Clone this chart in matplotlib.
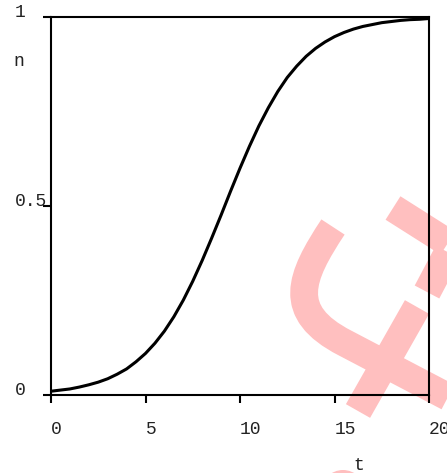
import numpy as np
import matplotlib
matplotlib.use("Agg")
import matplotlib.pyplot as plt
from matplotlib.path import Path
from matplotlib.patches import PathPatch
from matplotlib.transforms import Affine2D

# data
t_vals = [0, 0.5, 1, 1.5, 2, 2.5, 3, 3.5, 4, 4.5, 5, 5.5, 6, 6.5, 7, 7.5, 8, 8.5, 9, 9.5,
          10, 10.5, 11, 11.5, 12, 12.5, 13, 13.5, 14, 14.5, 15, 15.5, 16, 16.5, 17, 17.5,
          18, 18.5, 19, 19.5, 20]
n_vals = [0.010, 0.013, 0.016, 0.021, 0.027, 0.034, 0.043, 0.055, 0.069, 0.088, 0.110,
          0.137, 0.169, 0.207, 0.251, 0.301, 0.356, 0.415, 0.476, 0.539, 0.600, 0.658,
          0.712, 0.760, 0.803, 0.840, 0.870, 0.896, 0.917, 0.934, 0.948, 0.959, 0.968,
          0.975, 0.980, 0.985, 0.988, 0.991, 0.993, 0.994, 0.996]
x_ticks = [0, 5, 10, 15, 20]
x_ticklabels = ["0", "5", "10", "15", "20"]
y_ticks = [0, 0.5, 1]
y_ticklabels = ["0", "0.5", "1"]

W, H = 447, 473
fig = plt.figure(figsize=(W / 100, H / 100), dpi=100)
fig.patch.set_facecolor("white")

# watermark (pixel coordinates, y downward)
px = Affine2D().scale(1 / W, -1 / H).translate(0, 1) + fig.transFigure
pink = (1.0, 0.75, 0.75)
wm_lw = 20
strokes = [
    Path([(333, 227), (300, 277), (285, 312), (345, 343), (490, 419)],
         [Path.MOVETO, Path.CURVE4, Path.CURVE4, Path.CURVE4, Path.LINETO]),
    Path([(393, 208), (475, 260)], [Path.MOVETO, Path.LINETO]),
    Path([(427, 292), (465, 220)], [Path.MOVETO, Path.LINETO]),
    Path([(417, 307), (358, 411)], [Path.MOVETO, Path.LINETO]),
]
for p in strokes:
    fig.patches.append(PathPatch(p, transform=px, facecolor="none", edgecolor=pink,
                                 lw=wm_lw, capstyle="butt", joinstyle="round", zorder=-5))
from matplotlib.patches import Circle
fig.patches.append(Circle((343, 492), 22, transform=px, facecolor=pink,
                          edgecolor="none", zorder=-5))

ax = fig.add_axes([51 / W, 1 - 395 / H, 378 / W, 378 / H])
ax.set_facecolor("none")
ax.plot(t_vals, n_vals, color="black", lw=2.2, solid_capstyle="round")
ax.set_xlim(0, 20)
ax.set_ylim(0, 1)

for s in ax.spines.values():
    s.set_linewidth(1.5)
    s.set_color("black")

font = dict(family="Liberation Mono", size=13)
ax.set_xticks(x_ticks)
ax.set_xticklabels(x_ticklabels, fontdict=font, color="#222222")
ax.set_yticks(y_ticks)
ax.set_yticklabels(y_ticklabels, fontdict=font, color="#222222")
ax.tick_params(axis="x", direction="out", length=5.8, width=1.5, pad=13)
ax.tick_params(axis="y", direction="out", length=5.8, width=1.5, pad=20.5)
for lab in ax.get_xticklabels():
    lab.set_horizontalalignment("left")
for lab in ax.get_yticklabels():
    lab.set_horizontalalignment("left")
    lab.set_verticalalignment("baseline")

ax.set_xlabel("t", fontdict=font, color="#222222", ha="left", va="baseline")
ax.xaxis.set_label_coords(302 / 378, -75 / 378)
ax.set_ylabel("n", fontdict=font, color="#222222", rotation=0, ha="left", va="baseline")
ax.yaxis.set_label_coords(-38 / 378, 329 / 378)

fig.savefig("out.png", dpi=100)
